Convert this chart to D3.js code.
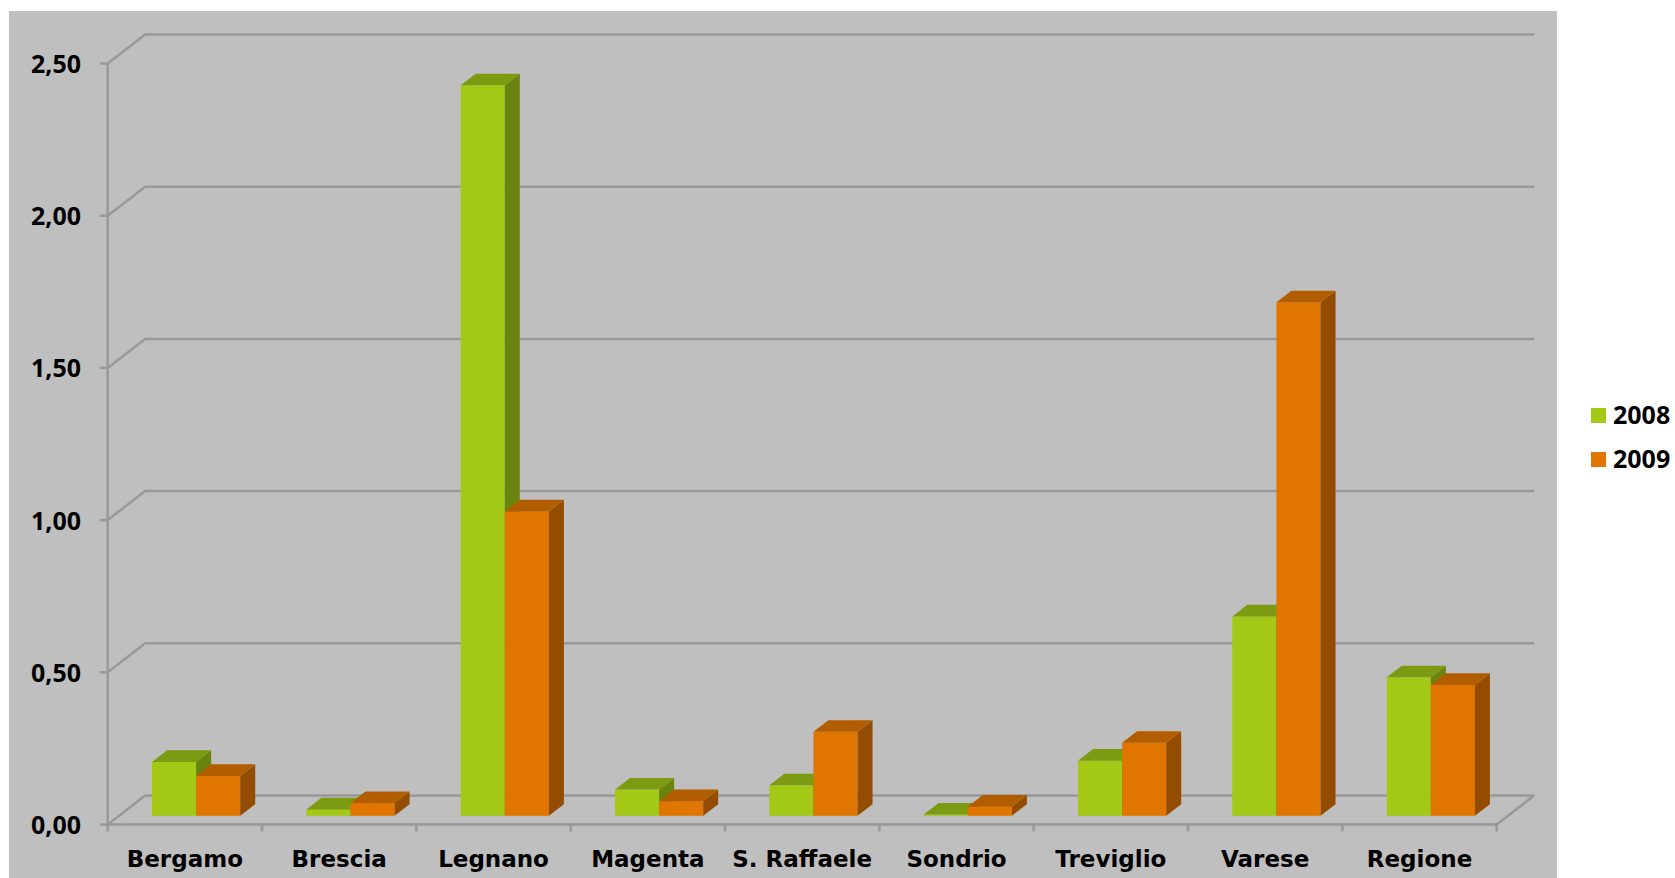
<!DOCTYPE html>
<html>
<head>
<meta charset="utf-8">
<script src="https://cdn.jsdelivr.net/npm/d3@7"></script>
<style>
  html, body { margin: 0; padding: 0; background: #ffffff; }
  svg { display: block; }
</style>
</head>
<body>
<svg id="chart" width="1675" height="878"></svg>
<script>
// Hospitals / areas and the two yearly series
const categories = ["Bergamo", "Brescia", "Legnano", "Magenta", "S. Raffaele", "Sondrio", "Treviglio", "Varese", "Regione"];
const seriesNames = ["2008", "2009"];
const values2008 = [0.177, 0.021, 2.40, 0.086, 0.100, 0.004, 0.181, 0.655, 0.455];
const values2009 = [0.131, 0.042, 1.00, 0.048, 0.276, 0.030, 0.240, 1.687, 0.430];
const yTicks = [0, 0.5, 1.0, 1.5, 2.0, 2.5];

// Face colours per series: front, top, side
const palette = {
  "2008": { front: "#a4c816", top: "#7c9a12", side: "#6a8410" },
  "2009": { front: "#e07500", top: "#b25d00", side: "#944d00" }
};

const svg = d3.select("#chart");

// Plot area background
svg.append("rect")
  .attr("x", 9).attr("y", 11)
  .attr("width", 1548).attr("height", 867)
  .attr("fill", "#bfbfbf");

// Oblique 3D frame: front plane spans x0..x1, the back wall is shifted by (DX, DY)
const x0 = 107.7, x1 = 1496.7;
const DX = 37.5, DY = -29;
const frontDepth = 0.3, backDepth = 0.7;

const y = d3.scaleLinear().domain([0, 2.5]).range([824.5, 63.5]);
const x = d3.scaleBand().domain(categories).range([x0, x1]).paddingInner(0).paddingOuter(0);

// Two touching bars per category, gap width 150% of a bar
const barW = x.bandwidth() / 3.5;
const xs = d3.scaleBand().domain(seriesNames).range([0.75 * barW, 2.75 * barW]).padding(0);

const gridColor = "#999999";
const grid = svg.append("g").attr("fill", "none").attr("stroke", gridColor).attr("stroke-width", 2.5);

// Side wall diagonals and back wall gridlines
yTicks.forEach(t => {
  grid.append("path")
    .attr("d", d3.line()([[x0, y(t)], [x0 + DX, y(t) + DY], [x1 + DX, y(t) + DY]]));
});
// Floor front edge and right edge
grid.append("path")
  .attr("d", d3.line()([[x0, y(0)], [x1, y(0)], [x1 + DX, y(0) + DY]]));
// Vertical value axis
grid.append("line")
  .attr("x1", x0).attr("x2", x0)
  .attr("y1", y(0)).attr("y2", y(2.5));
// Value axis ticks
yTicks.forEach(t => {
  grid.append("line")
    .attr("x1", x0 - 8).attr("x2", x0)
    .attr("y1", y(t)).attr("y2", y(t));
});
// Category boundary ticks
d3.range(categories.length + 1).forEach(i => {
  const xt = x0 + i * x.bandwidth();
  grid.append("line")
    .attr("x1", xt).attr("x2", xt)
    .attr("y1", y(0)).attr("y2", y(0) + 7);
});

// Value axis labels
const fmt = d => d3.format(".2f")(d).replace(".", ",");
svg.append("g")
  .selectAll("text")
  .data(yTicks)
  .join("text")
  .attr("x", 81)
  .attr("y", d => y(d) + 9.5)
  .attr("text-anchor", "end")
  .attr("font-family", "'Open Sans', sans-serif")
  .attr("font-weight", "bold")
  .attr("font-size", 25)
  .attr("fill", "#000")
  .text(fmt);

// Category labels
svg.append("g")
  .selectAll("text")
  .data(categories)
  .join("text")
  .attr("x", d => x(d) + x.bandwidth() / 2)
  .attr("y", 867)
  .attr("text-anchor", "middle")
  .attr("font-family", "'DejaVu Sans', sans-serif")
  .attr("font-weight", "bold")
  .attr("font-size", 23)
  .attr("fill", "#000")
  .text(d => d);

// Bars, drawn left to right so each bar covers its neighbour's hidden side
const bars = [];
categories.forEach((c, i) => {
  bars.push({ cat: c, series: "2008", value: values2008[i] });
  bars.push({ cat: c, series: "2009", value: values2009[i] });
});

const barLayer = svg.append("g");
bars.forEach(b => {
  const xl = x(b.cat) + xs(b.series);
  const xr = xl + xs.bandwidth();
  const fdx = frontDepth * DX, fdy = frontDepth * DY;
  const bdx = backDepth * DX, bdy = backDepth * DY;
  const yb = y(0), yt = y(b.value);
  const col = palette[b.series];
  const g = barLayer.append("g");
  // front face
  g.append("rect")
    .attr("x", xl + fdx).attr("y", yt + fdy)
    .attr("width", xr - xl).attr("height", Math.max(0, yb - yt))
    .attr("fill", col.front);
  // right side face
  g.append("path")
    .attr("d", d3.line()([[xr + fdx, yt + fdy], [xr + bdx, yt + bdy], [xr + bdx, yb + bdy], [xr + fdx, yb + fdy]]) + "Z")
    .attr("fill", col.side);
  // top face
  g.append("path")
    .attr("d", d3.line()([[xl + fdx, yt + fdy], [xl + bdx, yt + bdy], [xr + bdx, yt + bdy], [xr + fdx, yt + fdy]]) + "Z")
    .attr("fill", col.top);
});

// Legend
const legend = svg.append("g");
seriesNames.forEach((s, i) => {
  legend.append("rect")
    .attr("x", 1591).attr("y", 408 + i * 44)
    .attr("width", 15).attr("height", 15)
    .attr("fill", palette[s].front);
  legend.append("text")
    .attr("x", 1613).attr("y", 424 + i * 44)
    .attr("font-family", "'Open Sans', sans-serif")
    .attr("font-weight", "bold")
    .attr("font-size", 25)
    .attr("fill", "#000")
    .text(s);
});
</script>
</body>
</html>
